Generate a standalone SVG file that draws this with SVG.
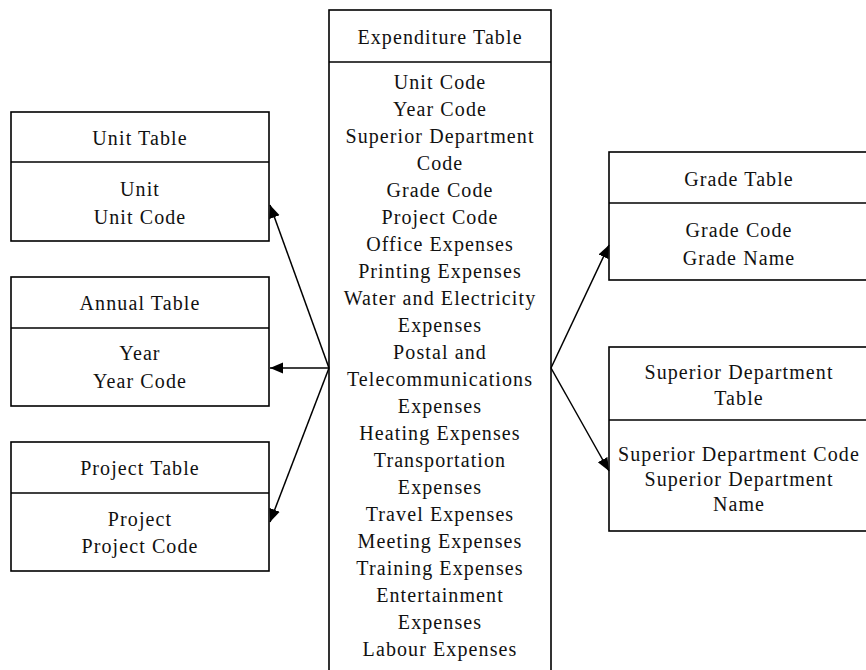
<svg xmlns="http://www.w3.org/2000/svg" width="866" height="670" viewBox="0 0 866 670">
  <style>
    .box { fill: #fff; stroke: #000; stroke-width: 1.6; }
    .sep { stroke: #000; stroke-width: 1.6; }
    text { font-family: "Liberation Serif", "Times New Roman", serif; font-size: 20px; letter-spacing: 1.1px; fill: #111; text-anchor: middle; }
    .edge { stroke: #000; stroke-width: 1.5; fill: none; marker-end: url(#arrow); }
  </style>
  <defs>
    <marker id="arrow" markerUnits="userSpaceOnUse" markerWidth="14" markerHeight="12" refX="13" refY="5.5" orient="auto">
      <path d="M0,0 L13,5.5 L0,11 Z" fill="#000"/>
    </marker>
  </defs>
  <rect width="866" height="670" fill="#fff"/>

  <!-- central table -->
  <g id="expenditure-table">
    <rect class="box" x="329" y="10" width="222" height="670"/>
    <line class="sep" x1="329" y1="62" x2="551" y2="62"/>
    <text x="440" y="44">Expenditure Table</text>
    <text x="440" y="89">Unit Code</text>
    <text x="440" y="116">Year Code</text>
    <text x="440" y="143">Superior Department</text>
    <text x="440" y="170">Code</text>
    <text x="440" y="197">Grade Code</text>
    <text x="440" y="224">Project Code</text>
    <text x="440" y="251">Office Expenses</text>
    <text x="440" y="278">Printing Expenses</text>
    <text x="440" y="305">Water and Electricity</text>
    <text x="440" y="332">Expenses</text>
    <text x="440" y="359">Postal and</text>
    <text x="440" y="386">Telecommunications</text>
    <text x="440" y="413">Expenses</text>
    <text x="440" y="440">Heating Expenses</text>
    <text x="440" y="467">Transportation</text>
    <text x="440" y="494">Expenses</text>
    <text x="440" y="521">Travel Expenses</text>
    <text x="440" y="548">Meeting Expenses</text>
    <text x="440" y="575">Training Expenses</text>
    <text x="440" y="602">Entertainment</text>
    <text x="440" y="629">Expenses</text>
    <text x="440" y="656">Labour Expenses</text>
  </g>

  <!-- left tables -->
  <g id="unit-table">
    <rect class="box" x="11" y="112" width="258" height="129"/>
    <line class="sep" x1="11" y1="162" x2="269" y2="162"/>
    <text x="140" y="145">Unit Table</text>
    <text x="140" y="196">Unit</text>
    <text x="140" y="224">Unit Code</text>
  </g>
  <g id="annual-table">
    <rect class="box" x="11" y="277" width="258" height="129"/>
    <line class="sep" x1="11" y1="328" x2="269" y2="328"/>
    <text x="140" y="310">Annual Table</text>
    <text x="140" y="360">Year</text>
    <text x="140" y="388">Year Code</text>
  </g>
  <g id="project-table">
    <rect class="box" x="11" y="442" width="258" height="129"/>
    <line class="sep" x1="11" y1="493" x2="269" y2="493"/>
    <text x="140" y="475">Project Table</text>
    <text x="140" y="526">Project</text>
    <text x="140" y="553">Project Code</text>
  </g>

  <!-- right tables -->
  <g id="grade-table">
    <rect class="box" x="609" y="152" width="262" height="128"/>
    <line class="sep" x1="609" y1="203" x2="871" y2="203"/>
    <text x="739" y="186">Grade Table</text>
    <text x="739" y="237">Grade Code</text>
    <text x="739" y="265">Grade Name</text>
  </g>
  <g id="superior-department-table">
    <rect class="box" x="609" y="347" width="262" height="184"/>
    <line class="sep" x1="609" y1="420" x2="871" y2="420"/>
    <text x="739" y="379">Superior Department</text>
    <text x="739" y="405">Table</text>
    <text x="739" y="461">Superior Department Code</text>
    <text x="739" y="486">Superior Department</text>
    <text x="739" y="511">Name</text>
  </g>

  <!-- relations -->
  <g id="connectors">
    <line class="edge" x1="329" y1="368" x2="270" y2="205"/>
    <line class="edge" x1="329" y1="368" x2="270" y2="368"/>
    <line class="edge" x1="329" y1="368" x2="270" y2="522"/>
    <line class="edge" x1="551" y1="368" x2="609" y2="245"/>
    <line class="edge" x1="551" y1="368" x2="609" y2="471"/>
  </g>
</svg>
